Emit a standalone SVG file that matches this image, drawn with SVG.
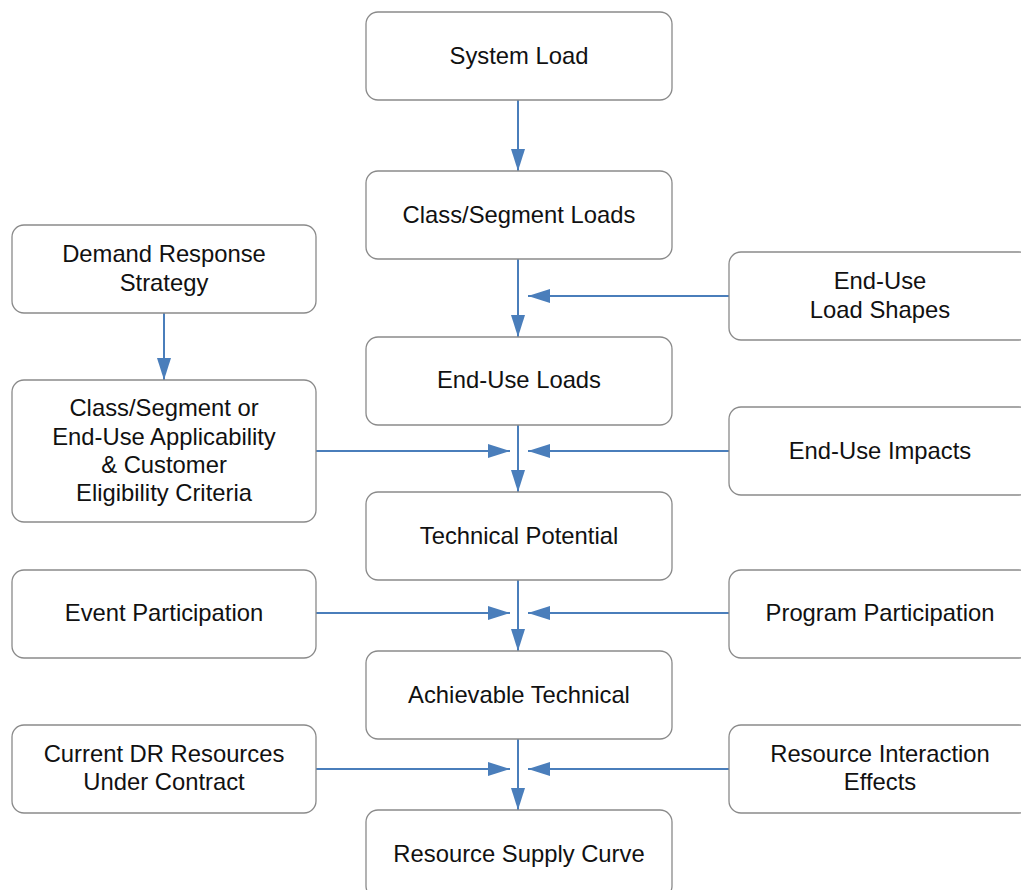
<svg xmlns="http://www.w3.org/2000/svg" width="1021" height="890" viewBox="0 0 1021 890">
<defs>
<marker id="arr" markerUnits="userSpaceOnUse" markerWidth="22" markerHeight="14" refX="22" refY="7" orient="auto">
<path d="M0,0 L22,7 L0,14 z" fill="#4a7ebb"/>
</marker>
<style>
.box{fill:#fff;stroke:#8a8a8a;stroke-width:1.3}
.t{font-family:"Liberation Sans",Arial,sans-serif;font-size:23.8px;fill:#111;text-anchor:middle}
.c{stroke:#4a7ebb;stroke-width:2;fill:none;marker-end:url(#arr)}
</style>
</defs>
<rect width="1021" height="890" fill="#fff"/>
<g id="connectors">
<line class="c" x1="518" y1="100" x2="518" y2="171"/>
<line class="c" x1="518" y1="259" x2="518" y2="337"/>
<line class="c" x1="729" y1="296" x2="528" y2="296"/>
<line class="c" x1="164" y1="313" x2="164" y2="380"/>
<line class="c" x1="518" y1="425" x2="518" y2="492"/>
<line class="c" x1="316" y1="451" x2="510" y2="451"/>
<line class="c" x1="729" y1="451" x2="528" y2="451"/>
<line class="c" x1="518" y1="580" x2="518" y2="651"/>
<line class="c" x1="316" y1="613" x2="510" y2="613"/>
<line class="c" x1="729" y1="613" x2="528" y2="613"/>
<line class="c" x1="518" y1="739" x2="518" y2="810"/>
<line class="c" x1="316" y1="769" x2="510" y2="769"/>
<line class="c" x1="729" y1="769" x2="528" y2="769"/>
</g>
<g id="system-load"><rect class="box" x="366" y="12" width="306" height="88" rx="12"/><text class="t" x="519" y="64">System Load</text></g>
<g id="class-segment-loads"><rect class="box" x="366" y="171" width="306" height="88" rx="12"/><text class="t" x="519" y="223">Class/Segment Loads</text></g>
<g id="end-use-loads"><rect class="box" x="366" y="337" width="306" height="88" rx="12"/><text class="t" x="519" y="388">End-Use Loads</text></g>
<g id="technical-potential"><rect class="box" x="366" y="492" width="306" height="88" rx="12"/><text class="t" x="519" y="544">Technical Potential</text></g>
<g id="achievable-technical"><rect class="box" x="366" y="651" width="306" height="88" rx="12"/><text class="t" x="519" y="703">Achievable Technical</text></g>
<g id="resource-supply-curve"><rect class="box" x="366" y="810" width="306" height="88" rx="12"/><text class="t" x="519" y="862">Resource Supply Curve</text></g>
<g id="demand-response-strategy"><rect class="box" x="12" y="225" width="304" height="88" rx="12"/><text class="t" x="164" y="262">Demand Response</text><text class="t" x="164" y="291">Strategy</text></g>
<g id="applicability-criteria"><rect class="box" x="12" y="380" width="304" height="142" rx="12"/><text class="t" x="164" y="416">Class/Segment or</text><text class="t" x="164" y="445">End-Use Applicability</text><text class="t" x="164" y="473">&amp; Customer</text><text class="t" x="164" y="501">Eligibility Criteria</text></g>
<g id="event-participation"><rect class="box" x="12" y="570" width="304" height="88" rx="12"/><text class="t" x="164" y="621">Event Participation</text></g>
<g id="current-dr-resources"><rect class="box" x="12" y="725" width="304" height="88" rx="12"/><text class="t" x="164" y="762">Current DR Resources</text><text class="t" x="164" y="790">Under Contract</text></g>
<g id="end-use-load-shapes"><rect class="box" x="729" y="252" width="302" height="88" rx="12"/><text class="t" x="880" y="289">End-Use</text><text class="t" x="880" y="318">Load Shapes</text></g>
<g id="end-use-impacts"><rect class="box" x="729" y="407" width="302" height="88" rx="12"/><text class="t" x="880" y="459">End-Use Impacts</text></g>
<g id="program-participation"><rect class="box" x="729" y="570" width="302" height="88" rx="12"/><text class="t" x="880" y="621">Program Participation</text></g>
<g id="resource-interaction-effects"><rect class="box" x="729" y="725" width="302" height="88" rx="12"/><text class="t" x="880" y="762">Resource Interaction</text><text class="t" x="880" y="790">Effects</text></g>
</svg>
